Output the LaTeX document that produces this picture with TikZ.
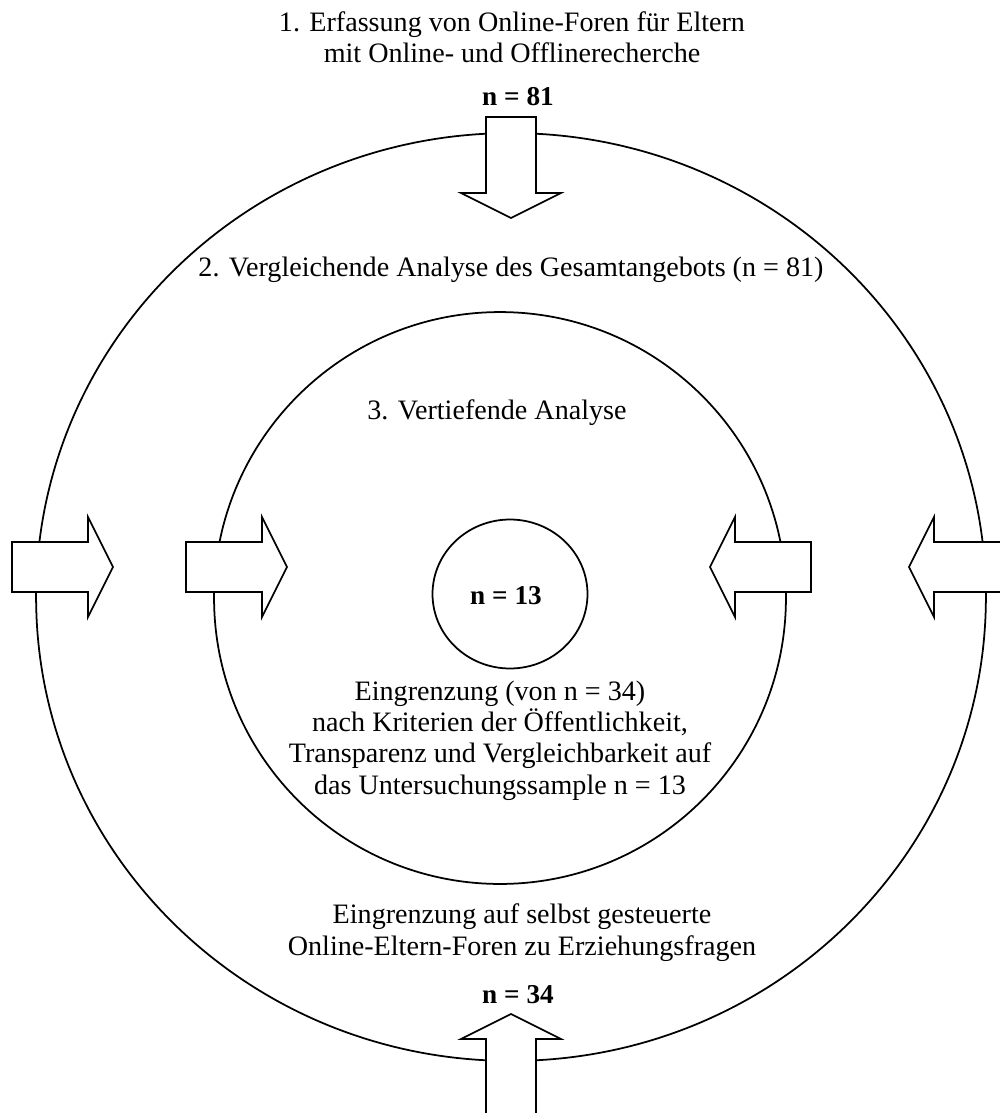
\documentclass[tikz,border=0pt]{standalone}
\usepackage{fontspec}
\setmainfont{Liberation Serif}
\usetikzlibrary{shapes, positioning}
\tikzstyle{ring} = [ellipse, draw, line width=1pt, inner sep=0pt]
\tikzstyle{stagetext} = [align=center, font=\fontsize{16}{17.9}\selectfont]
\tikzstyle{count} = [font=\fontsize{15.5}{17.9}\selectfont\bfseries]
\tikzset{blockarrow/.pic={
    \draw [fill=white, line width=1pt] (0,0) -- (-25,50) -- (-25,25) -- (-101,25)
        -- (-101,-25) -- (-25,-25) -- (-25,-50) -- cycle;
}}

\begin{document}
\begin{tikzpicture}[x=0.02cm, y=-0.02cm]
    \useasboundingbox (0,0) rectangle (1000,1113);

    % Rings
    \node [ring, minimum width=19cm, minimum height=18.56cm] (outer) at (511,597) {};
    \node [ring, minimum width=11.44cm, minimum height=11.44cm] (inner) at (500,598) {};
    \node [ring, minimum width=3.1cm, minimum height=2.98cm] (core) at (510,594) {};

    % Arrows
    \pic [rotate=-90] at (511,218) {blockarrow};
    \pic [rotate=90] at (511,1014) {blockarrow};
    \pic at (113,567) {blockarrow};
    \pic at (287,567) {blockarrow};
    \pic [rotate=180] at (710,567) {blockarrow};
    \pic [rotate=180] at (909,567) {blockarrow};

    % Texts
    \node [stagetext] (collect) at (512,37.5) {1. Erfassung von Online-Foren für Eltern\\mit Online- und Offlinerecherche};
    \node [count] (n81) at (518,97) {n = 81};
    \node [stagetext] (compare) at (511,270) {2. Vergleichende Analyse des Gesamtangebots (n = 81)};
    \node [stagetext] (deepen) at (497,413) {3. Vertiefende Analyse};
    \node [count] (n13) at (506,596) {n = 13};
    \node [stagetext] (narrow) at (500,740.5) {Eingrenzung (von n = 34)\\nach Kriterien der Öffentlichkeit,\\Transparenz und Vergleichbarkeit auf\\das Untersuchungssample n = 13};
    \node [stagetext] (select) at (522,932.5) {Eingrenzung auf selbst gesteuerte\\Online-Eltern-Foren zu Erziehungsfragen};
    \node [count] (n34) at (518,995) {n = 34};

\end{tikzpicture}
\end{document}
